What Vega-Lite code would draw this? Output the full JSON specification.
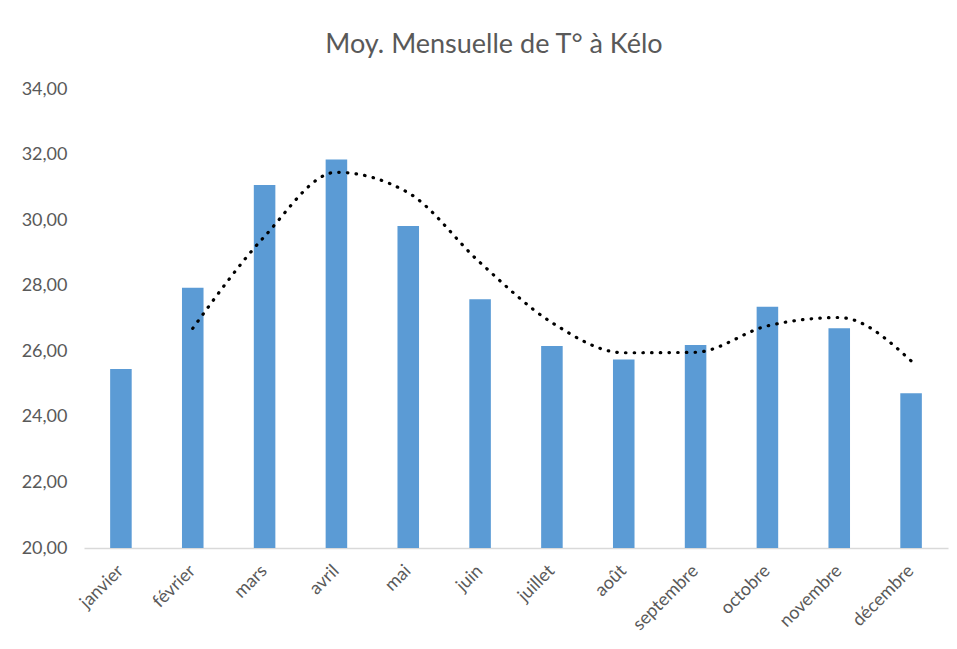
{
  "$schema": "https://vega.github.io/schema/vega-lite/v6.json",
  "width": 864,
  "height": 459,
  "autosize": {"type": "none"},
  "padding": {"left": 84, "top": 89, "right": 9, "bottom": 101},
  "title": {
    "text": "Moy. Mensuelle de T° à Kélo",
    "font": "Lato",
    "fontSize": 27,
    "fontWeight": "normal",
    "color": "#595959",
    "frame": "group",
    "anchor": "middle",
    "dx": -22,
    "offset": 0,
    "baseline": "alphabetic"
  },
  "data": {
    "values": [
      {"mois": "janvier", "temp": 25.46, "moy": null},
      {"mois": "février", "temp": 27.94, "moy": 26.70},
      {"mois": "mars", "temp": 31.07, "moy": 29.505},
      {"mois": "avril", "temp": 31.85, "moy": 31.46},
      {"mois": "mai", "temp": 29.82, "moy": 30.835},
      {"mois": "juin", "temp": 27.59, "moy": 28.705},
      {"mois": "juillet", "temp": 26.16, "moy": 26.875},
      {"mois": "août", "temp": 25.75, "moy": 25.955},
      {"mois": "septembre", "temp": 26.19, "moy": 25.97},
      {"mois": "octobre", "temp": 27.36, "moy": 26.775},
      {"mois": "novembre", "temp": 26.70, "moy": 27.03},
      {"mois": "décembre", "temp": 24.72, "moy": 25.71}
    ]
  },
  "encoding": {
    "x": {
      "field": "mois",
      "type": "nominal",
      "sort": null,
      "scale": {"paddingInner": 0.7, "paddingOuter": 0.364},
      "axis": {
        "title": null,
        "labelAngle": -45,
        "labelAlign": "right",
        "labelBaseline": "middle",
        "labelFont": "Lato",
        "labelFontSize": 18,
        "labelColor": "#595959",
        "ticks": false,
        "labelPadding": 20,
        "domainColor": "#D9D9D9",
        "domainWidth": 1.5
      }
    }
  },
  "layer": [
    {
      "mark": {"type": "bar", "color": "#5B9BD5"},
      "encoding": {
        "y": {
          "field": "temp",
          "type": "quantitative",
          "title": null,
          "scale": {"domain": [20, 34], "nice": false, "zero": false},
          "axis": {
            "values": [20, 22, 24, 26, 28, 30, 32, 34],
            "labelExpr": "replace(format(datum.value, '.2f'), '.', ',')",
            "labelFont": "Lato",
            "labelFontSize": 18,
            "labelColor": "#595959",
            "labelPadding": 17,
            "domain": false,
            "ticks": false,
            "grid": false
          }
        },
        "y2": {"datum": 20}
      }
    },
    {
      "mark": {
        "type": "line",
        "color": "#000000",
        "strokeWidth": 3.2,
        "strokeDash": [0.5, 8.2],
        "strokeCap": "round",
        "interpolate": "monotone"
      },
      "encoding": {
        "y": {"field": "moy", "type": "quantitative", "title": null}
      }
    }
  ],
  "config": {
    "view": {"stroke": null},
    "axis": {"grid": false}
  }
}
